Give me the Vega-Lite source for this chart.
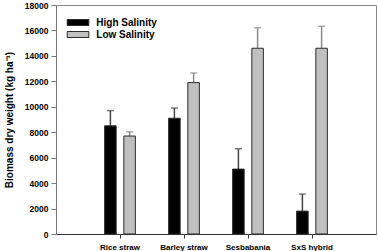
{
  "$schema": "https://vega.github.io/schema/vega-lite/v6.json",
  "autosize": "none",
  "width": 320,
  "height": 229,
  "padding": {"left": 56, "top": 5, "right": 2, "bottom": 17},
  "background": "white",
  "config": {
    "font": "Liberation Sans",
    "view": {"stroke": "#8a8a8a", "strokeWidth": 1}
  },
  "data": {
    "values": [
      {"crop": "Rice straw", "salinity": "High Salinity", "value": 8500, "upper": 9700},
      {"crop": "Rice straw", "salinity": "Low Salinity", "value": 7700, "upper": 8030},
      {"crop": "Barley straw", "salinity": "High Salinity", "value": 9100, "upper": 9900},
      {"crop": "Barley straw", "salinity": "Low Salinity", "value": 11900, "upper": 12660},
      {"crop": "Sesbabania", "salinity": "High Salinity", "value": 5100, "upper": 6700},
      {"crop": "Sesbabania", "salinity": "Low Salinity", "value": 14600, "upper": 16220},
      {"crop": "SxS hybrid", "salinity": "High Salinity", "value": 1800, "upper": 3140},
      {"crop": "SxS hybrid", "salinity": "Low Salinity", "value": 14600, "upper": 16330}
    ]
  },
  "encoding": {
    "x": {
      "field": "crop",
      "type": "nominal",
      "sort": null,
      "scale": {"type": "band", "paddingInner": 0, "paddingOuter": 0.5},
      "axis": {
        "title": null,
        "labelAngle": 0,
        "labelFont": "Liberation Sans",
        "labelFontSize": 8,
        "labelFontWeight": "bold",
        "labelColor": "black",
        "labelPadding": 5,
        "tickSize": 4,
        "tickColor": "#333333",
        "domainColor": "#333333",
        "grid": false
      }
    },
    "xOffset": {
      "field": "salinity",
      "type": "nominal",
      "scale": {"paddingInner": 0.4, "paddingOuter": 0.867}
    },
    "y": {
      "field": "value",
      "type": "quantitative",
      "scale": {"domain": [0, 18000], "nice": false},
      "axis": {
        "title": "Biomass dry weight (kg ha\u207B\u00B9)",
        "titleFont": "Liberation Sans",
        "titleFontSize": 10,
        "titleFontWeight": "bold",
        "titleColor": "black",
        "titlePadding": 10,
        "values": [0, 2000, 4000, 6000, 8000, 10000, 12000, 14000, 16000, 18000],
        "format": "d",
        "labelOverlap": false,
        "labelFont": "Liberation Sans",
        "labelFontSize": 8.5,
        "labelFontWeight": "bold",
        "labelColor": "black",
        "labelPadding": 3,
        "tickSize": 5,
        "tickColor": "#777777",
        "domainColor": "#777777",
        "grid": false
      }
    }
  },
  "layer": [
    {
      "mark": {"type": "rule", "strokeWidth": 1.5},
      "encoding": {
        "y2": {"field": "upper"},
        "stroke": {
          "condition": {"test": "datum.salinity === 'High Salinity'", "value": "#444444"},
          "value": "#8a8a8a"
        }
      }
    },
    {
      "mark": {"type": "tick", "thickness": 1.5, "size": 7},
      "encoding": {
        "y": {
          "field": "upper",
          "type": "quantitative",
          "scale": {"domain": [0, 18000], "nice": false},
          "axis": {
            "title": "Biomass dry weight (kg ha\u207B\u00B9)",
            "titleFont": "Liberation Sans",
            "titleFontSize": 10,
            "titleFontWeight": "bold",
            "titleColor": "black",
            "titlePadding": 10,
            "values": [0, 2000, 4000, 6000, 8000, 10000, 12000, 14000, 16000, 18000],
            "format": "d",
            "labelOverlap": false,
            "labelFont": "Liberation Sans",
            "labelFontSize": 8.5,
            "labelFontWeight": "bold",
            "labelColor": "black",
            "labelPadding": 3,
            "tickSize": 5,
            "tickColor": "#777777",
            "domainColor": "#777777",
            "grid": false
          }
        },
        "color": {
          "condition": {"test": "datum.salinity === 'High Salinity'", "value": "#444444"},
          "value": "#8a8a8a"
        }
      }
    },
    {
      "mark": {"type": "bar", "stroke": "#2a2a2a", "strokeWidth": 1},
      "encoding": {
        "fill": {
          "field": "salinity",
          "type": "nominal",
          "scale": {"domain": ["High Salinity", "Low Salinity"], "range": ["#000000", "#c0c0c0"]},
          "legend": {
            "title": null,
            "orient": "none",
            "legendX": 15.5,
            "legendY": 11,
            "padding": 0,
            "symbolType": "M-1.8,-0.5H1.8V0.5H-1.8Z",
            "symbolSize": 144,
            "symbolStrokeColor": "#2a2a2a",
            "symbolStrokeWidth": 1,
            "labelOffset": 11.8,
            "labelFont": "Liberation Sans",
            "labelFontSize": 10,
            "labelFontWeight": "bold",
            "labelColor": "black",
            "rowPadding": 0
          }
        }
      }
    }
  ]
}
